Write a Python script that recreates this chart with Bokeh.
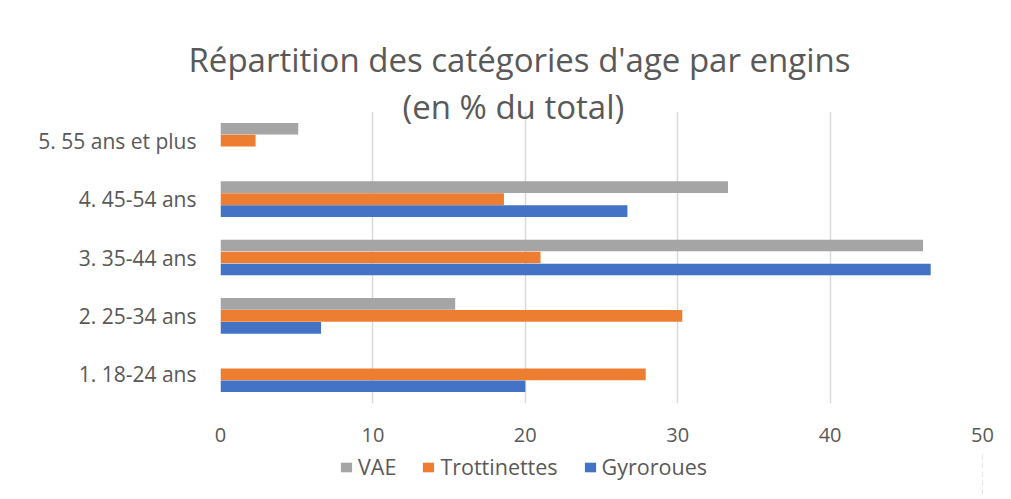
from bokeh.plotting import figure
from bokeh.layouts import column
from bokeh.models import ColumnDataSource, FactorRange, Range1d, Title, Legend, LegendItem, FixedTicker
from bokeh.transform import dodge
from bokeh.embed import file_html
from bokeh.resources import INLINE

# ---- data ----
categories = ["1. 18-24 ans", "2. 25-34 ans", "3. 35-44 ans", "4. 45-54 ans", "5. 55 ans et plus"]
gyroroues = [20.0, 6.6, 46.6, 26.7, 0.0]
trottinettes = [27.9, 30.3, 21.0, 18.6, 2.3]
vae = [0.0, 15.4, 46.1, 33.3, 5.1]
series_names = ["VAE", "Trottinettes", "Gyroroues"]
series_cols = ["vae", "trott", "gyro"]
x_ticks = [0, 10, 20, 30, 40, 50]
title_lines = ["Répartition des catégories d'age par engins", "(en % du total)"]

FONT = "Open Sans"
TXT = "#595959"
COLORS = {"VAE": "#A5A5A5", "Trottinettes": "#ED7D31", "Gyroroues": "#4472C4"}

src = ColumnDataSource(dict(cat=categories, gyro=gyroroues, trott=trottinettes, vae=vae))

W = 1005
p = figure(width=W, height=452,
           y_range=FactorRange(factors=categories),
           x_range=Range1d(0, 50),
           output_backend="svg", toolbar_location=None,
           min_border_left=220, min_border_right=23,
           min_border_top=111, min_border_bottom=49)
p.title.text = ""
p.outline_line_color = None
p.background_fill_color = "white"
p.border_fill_color = "white"

bh = 0.2
offsets = [0.205, 0.0, -0.205]
for name, col, o in zip(series_names, series_cols, offsets):
    p.hbar(y=dodge("cat", o, range=p.y_range), left=0, right=col, height=bh,
           source=src, fill_color=COLORS[name], line_color=None)

# axes
p.xaxis.ticker = FixedTicker(ticks=x_ticks)
p.xaxis.axis_line_color = None
p.xaxis.major_tick_line_color = None
p.xaxis.minor_tick_line_color = None
p.xaxis.major_label_standoff = 18
p.xaxis.major_label_text_font = FONT
p.xaxis.major_label_text_font_size = "20px"
p.xaxis.major_label_text_color = TXT

p.yaxis.axis_line_color = None
p.yaxis.major_tick_line_color = None
p.yaxis.minor_tick_line_color = None
p.yaxis.major_label_standoff = 18
p.yaxis.major_label_text_font = FONT
p.yaxis.major_label_text_font_size = "21px"
p.yaxis.major_label_text_color = TXT

p.xgrid.grid_line_color = "#D9D9D9"
p.xgrid.grid_line_width = 1.5
p.ygrid.grid_line_color = None

# title: two lines, the first added sits closest to the plot
p.add_layout(Title(text=title_lines[1], align="left", offset=182, standoff=-34,
                   text_font=FONT, text_font_size="33px", text_color=TXT,
                   text_font_style="normal"), "above")
p.add_layout(Title(text=title_lines[0], align="left", offset=-32, standoff=34,
                   text_font=FONT, text_font_size="33px", text_color=TXT,
                   text_font_style="normal"), "above")

# legend strip under the chart: its own small figure whose x view lies
# outside the bars, so only the legend swatches and labels are seen
p2 = figure(width=W, height=43, x_range=Range1d(-2, -1),
            y_range=FactorRange(factors=categories),
            output_backend="svg", toolbar_location=None, title_location=None,
            x_axis_location=None, y_axis_location=None,
            min_border=0, min_border_left=220, min_border_right=0)
p2.outline_line_color = None
p2.grid.visible = False
items = []
for name, col, o in zip(series_names, series_cols, offsets):
    r = p2.hbar(y=dodge("cat", o, range=p2.y_range), left=0, right=col, height=bh,
                source=src, fill_color=COLORS[name], line_color=None)
    items.append(LegendItem(label=name, renderers=[r]))

legend = Legend(items=items, location=(119, 14), orientation="horizontal",
                glyph_width=14, glyph_height=12, label_standoff=5, spacing=25,
                padding=0, margin=0, border_line_color=None, background_fill_alpha=0,
                label_text_font=FONT, label_text_font_size="21.5px", label_text_color=TXT)
p2.add_layout(legend)

layout = column(p, p2, spacing=0)
open("out.html", "w").write(file_html(layout, INLINE))
